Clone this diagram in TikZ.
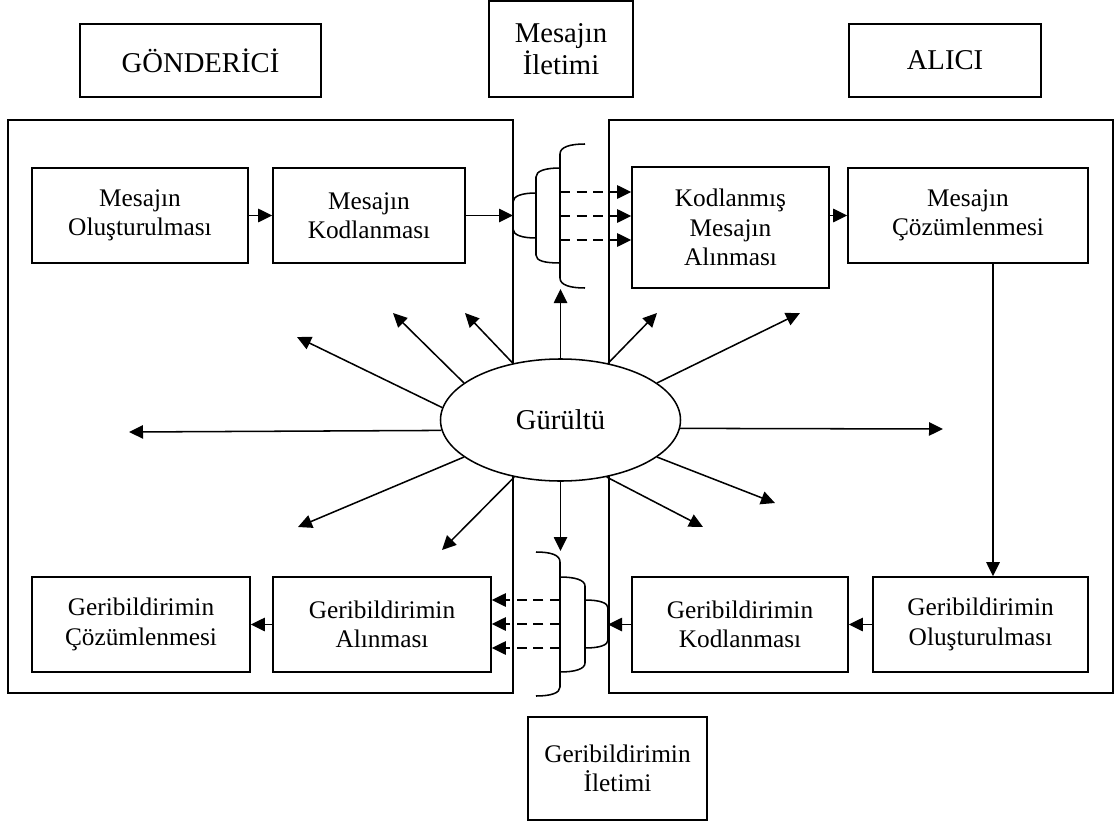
\documentclass[tikz,border=0pt]{standalone}
\usepackage{fontspec}
\setmainfont{Liberation Serif}
\usetikzlibrary{arrows.meta,shapes.geometric}
\begin{document}
\begin{tikzpicture}[x=0.75pt,y=-0.75pt, line width=1.15pt,
  bx/.style={draw, align=center, inner sep=0pt, font=\fontsize{19}{22}\selectfont},
  tbx/.style={draw, align=center, inner sep=0pt, font=\fontsize{21.5}{24}\selectfont},
  frame/.style={draw, inner sep=0pt},
  ar/.style={-{Triangle[length=10.5pt,width=10pt]}},
  dar/.style={ar, dash pattern=on 7.5pt off 5pt},
]
\useasboundingbox (0,0) rectangle (1118,821);

% big frames
\node[frame, minimum width=378.75pt, minimum height=429.75pt] (lb) at (260.5,406.5) {};
\node[frame, minimum width=378pt, minimum height=429.75pt] (rb) at (861,406.5) {};

% top labels
\node[tbx, minimum width=180.75pt, minimum height=54.75pt] (gon) at (200.5,60.5) {GÖNDERİCİ};
\node[tbx, minimum width=108pt, minimum height=72pt] (mil) at (561,49) {Mesajın\\İletimi};
\node[tbx, minimum width=144pt, minimum height=54.75pt] (alc) at (945,60.5) {ALICI};
\node[bx, minimum width=134.25pt, minimum height=77.25pt] (gil) at (617.5,768.5) {Geribildirimin\\İletimi};

% inner boxes
\node[bx, minimum width=162pt, minimum height=71.25pt] (mo) at (140,215.5) {Mesajın\\Oluşturulması};
\node[bx, minimum width=144pt, minimum height=71.25pt] (mk) at (369,215.5) {Mesajın\\Kodlanması};
\node[bx, minimum width=147.75pt, minimum height=90.75pt] (kma) at (730.5,227.5) {Kodlanmış\\Mesajın\\Alınması};
\node[bx, minimum width=180pt, minimum height=71.25pt] (mc) at (968,215.5) {Mesajın\\Çözümlenmesi};
\node[bx, minimum width=163.5pt, minimum height=71.25pt] (gc) at (141,624.5) {Geribildirimin\\Çözümlenmesi};
\node[bx, minimum width=163.5pt, minimum height=71.25pt] (ga) at (382,624.5) {Geribildirimin\\Alınması};
\node[bx, minimum width=162pt, minimum height=71.25pt] (gk) at (740,624.5) {Geribildirimin\\Kodlanması};
\node[bx, minimum width=161.25pt, minimum height=71.25pt] (go) at (980.5,624.5) {Geribildirimin\\Oluşturulması};

% noise ellipse
\node[ellipse, draw, fill=white, minimum width=180pt, minimum height=91.5pt, inner sep=0pt,
      font=\fontsize{21.5}{24}\selectfont] (g) at (560.5,420) {Gürültü};

% top brace
\draw (536,193) .. controls (522,193) and (513,196) .. (513,202) -- (513,229) .. controls (513,235) and (522,238) .. (536,238);
\draw (560,168) .. controls (545,168) and (536,171) .. (536,177) -- (536,255) .. controls (536,261) and (545,263) .. (560,263);
\draw (585,144) .. controls (570,144) and (560,147) .. (560,154) -- (560,278) .. controls (560,285) and (570,288) .. (585,288);
% bottom brace
\draw (585,600) .. controls (600,600) and (608,603) .. (608,608) -- (608,640) .. controls (608,645) and (600,648) .. (585,648);
\draw (560,577) .. controls (575,577) and (585,580) .. (585,586) -- (585,663) .. controls (585,669) and (575,672) .. (560,672);
\draw (536,552) .. controls (551,552) and (560,555) .. (560,562) -- (560,687) .. controls (560,693) and (551,696) .. (536,696);

% brace points
\coordinate (tb1) at (513,215.5);
\coordinate (td1) at (560,192);
\coordinate (td2) at (560,216);
\coordinate (td3) at (560,240);
\coordinate (bb1) at (608,624.5);
\coordinate (bd1) at (560,600);
\coordinate (bd2) at (560,624);
\coordinate (bd3) at (560,648);
\coordinate (vx) at (993,0);

% flow arrows
\draw[ar] (mo) -- (mk);
\draw[ar] (mk.east) -- (tb1);
\draw[dar] (td1) -- (td1 -| kma.west);
\draw[dar] (td2) -- (td2 -| kma.west);
\draw[dar] (td3) -- (td3 -| kma.west);
\draw[ar] (kma.east |- mc) -- (mc.west);
\draw[ar] (mc.south -| vx) -- (go.north -| vx);
\draw[ar] (go) -- (gk);
\draw[ar] (gk.west) -- (bb1);
\draw[dar] (bd1) -- (bd1 -| ga.east);
\draw[dar] (bd2) -- (bd2 -| ga.east);
\draw[dar] (bd3) -- (bd3 -| ga.east);
\draw[ar] (ga) -- (gc);

% noise arrows
\coordinate (nA) at (297,337);
\coordinate (nB) at (393,313);
\coordinate (nC) at (465,313);
\coordinate (nU) at (560.5,289);
\coordinate (nD) at (657,313);
\coordinate (nE) at (800,313);
\coordinate (nR) at (943,429);
\coordinate (nH) at (775,503);
\coordinate (nI) at (703,527);
\coordinate (nDn) at (560.5,551);
\coordinate (nG) at (442,550);
\coordinate (nF) at (298,527);
\coordinate (nL) at (129,432);
\draw[ar] (g.174) -- (nA);
\draw[ar] (g.159) -- (nB);
\draw[ar] (g.130) -- (nC);
\draw[ar] (g.north) -- (nU);
\draw[ar] (g.50) -- (nD);
\draw[ar] (g.21) -- (nE);
\draw[ar] (g.-4.3) -- (nR);
\draw[ar] (g.-21) -- (nH);
\draw[ar] (g.-51) -- (nI);
\draw[ar] (g.south) -- (nDn);
\draw[ar] (g.231) -- (nG);
\draw[ar] (g.201) -- (nF);
\draw[ar] (g.185.7) -- (nL);
\end{tikzpicture}
\end{document}
